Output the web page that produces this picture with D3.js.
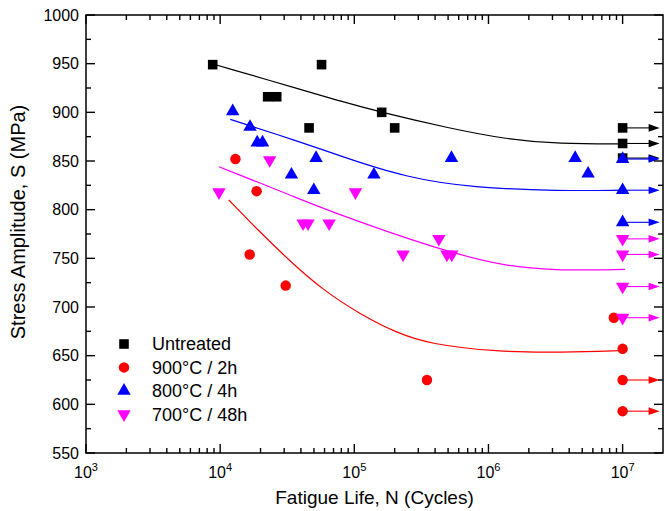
<!DOCTYPE html>
<html>
<head>
<meta charset="utf-8">
<script src="https://cdn.jsdelivr.net/npm/d3@7"></script>
<style>
  body { margin: 0; background: #fff; }
  text { font-family: "Liberation Sans", Arial, sans-serif; fill: #000; }
</style>
</head>
<body>
<svg id="chart" width="664" height="511"></svg>
<script>
// ---- data ----
const seriesNames = ["Untreated", "900°C / 2h", "800°C / 4h", "700°C / 48h"];
const seriesColors = ["#000000", "#ff0000", "#0000ff", "#ff00ff"];

const untreatedN = [8.8e3, 2.26e4, 2.64e4, 4.6e4, 5.7e4, 1.6e5, 2.0e5, 1e7, 1e7, 1e7];
const untreatedS = [949, 916, 916, 884, 949, 900, 884, 884, 868, 853];
const untreatedRunout = [0, 0, 0, 0, 0, 0, 0, 1, 1, 1];

const t900N = [1.30e4, 1.66e4, 1.87e4, 3.08e4, 3.48e5, 8.6e6, 1e7, 1e7, 1e7];
const t900S = [852, 754, 819, 722, 625, 689, 657, 625, 593];
const t900Runout = [0, 0, 0, 0, 0, 0, 0, 1, 1];

const t800N = [1.24e4, 1.67e4, 1.89e4, 2.07e4, 3.4e4, 4.99e4, 5.19e4, 1.40e5, 5.3e5, 4.43e6, 5.53e6, 1e7, 1e7, 1e7];
const t800S = [901, 885, 869, 869, 836, 820, 853, 836, 853, 853, 837, 852, 820, 787];
const t800Runout = [0, 0, 0, 0, 0, 0, 0, 0, 0, 0, 0, 1, 1, 1];

const t700N = [9.8e3, 2.34e4, 4.15e4, 4.52e4, 6.49e4, 1.02e5, 2.31e5, 4.27e5, 4.9e5, 5.33e5, 1e7, 1e7, 1e7, 1e7];
const t700S = [818, 851, 786, 786, 786, 818, 754, 770, 754, 754, 770, 754, 721, 689];
const t700Runout = [0, 0, 0, 0, 0, 0, 0, 0, 0, 0, 1, 1, 1, 1];

// fitted S-N curves
const untreatedFitN = [9.4e3, 3.92e4, 7.78e4, 1.59e5, 5.13e5, 1.36e6, 3.38e6, 1e7];
const untreatedFitS = [948.6, 923.8, 911.6, 900, 883.6, 872.3, 867.5, 867.5];
const t900FitN = [1.16e4, 1.98e4, 3.30e4, 5.82e4, 1.10e5, 2.07e5, 3.64e5, 1.15e6, 3.56e6, 1e7];
const t900FitS = [809.9, 777.0, 747.3, 717.5, 692.8, 673.3, 662.0, 653.8, 653.3, 655.3];
const t800FitN = [1.19e4, 3.92e4, 7.78e4, 2.44e5, 7.66e5, 3.38e6, 1e7];
const t800FitS = [892.8, 869.8, 855.4, 832.8, 822.6, 819.2, 820];
const t700FitN = [9.8e3, 3.92e4, 7.78e4, 4.33e5, 1.36e6, 3.38e6, 1.04e7];
const t700FitS = [844.1, 811, 794.5, 758.6, 741.4, 737.3, 738.7];

const xTickExps = [3, 4, 5, 6, 7];
const yTicks = [550, 600, 650, 700, 750, 800, 850, 900, 950, 1000];

// ---- layout ----
const svg = d3.select("#chart");
const mLeft = 86, mRight = 663, mTop = 15, mBottom = 453;

const x = d3.scaleLog().domain([1e3, 2e7]).range([mLeft, mRight]);
const y = d3.scaleLinear().domain([550, 1000]).range([mBottom, mTop]);

const series = [
  {N: untreatedN, S: untreatedS, run: untreatedRunout, fN: untreatedFitN, fS: untreatedFitS, shape: "square"},
  {N: t900N, S: t900S, run: t900Runout, fN: t900FitN, fS: t900FitS, shape: "circle"},
  {N: t800N, S: t800S, run: t800Runout, fN: t800FitN, fS: t800FitS, shape: "up"},
  {N: t700N, S: t700S, run: t700Runout, fN: t700FitN, fS: t700FitS, shape: "down"}
];
series.forEach((s, i) => { s.name = seriesNames[i]; s.color = seriesColors[i]; });

function symbolPath(shape){
  if(shape === "square") return d3.symbol(d3.symbolSquare, 92)();
  if(shape === "circle") return d3.symbol(d3.symbolCircle, 86)();
  return d3.symbol(d3.symbolTriangle, 78)();
}
function symbolTransform(shape, px, py){
  return shape === "down" ? `translate(${px},${py}) rotate(180)` : `translate(${px},${py})`;
}

// minor tick values
const xMinor = [];
for(let e = 3; e <= 7; e++){
  for(let k = 2; k <= 9; k++){
    const v = k * Math.pow(10, e);
    if(v < 2e7) xMinor.push(v);
  }
}
const yMinor = d3.range(575, 1000, 50);

// ---- fit curves ----
const line = d3.line().x(d => x(d[0])).y(d => y(d[1])).curve(d3.curveBasis);
series.forEach(s => {
  svg.append("path")
    .datum(s.fN.map((n, i) => [n, s.fS[i]]))
    .attr("d", line)
    .attr("fill", "none")
    .attr("stroke", s.color)
    .attr("stroke-width", 1.2);
});

// ---- run-out arrows + markers ----
const arrowLen = 37;
series.forEach(s => {
  const g = svg.append("g");
  s.N.forEach((n, i) => {
    if(!s.run[i]) return;
    const x0 = x(n), y0 = y(s.S[i]), x1 = x0 + arrowLen;
    g.append("line")
      .attr("x1", x0).attr("x2", x1 - 8)
      .attr("y1", y0).attr("y2", y0)
      .attr("stroke", s.color).attr("stroke-width", 1.1);
    g.append("path")
      .attr("d", `M${x1},${y0} L${x1 - 11},${y0 - 3.8} L${x1 - 11},${y0 + 3.8} Z`)
      .attr("fill", s.color);
  });
  g.selectAll("path.pt")
    .data(s.N.map((n, i) => [n, s.S[i]]))
    .join("path")
    .attr("class", "pt")
    .attr("d", symbolPath(s.shape))
    .attr("transform", d => symbolTransform(s.shape, x(d[0]), y(d[1])))
    .attr("fill", s.color);
});

// ---- axes (ticks point inwards on all four sides) ----
const axisG = svg.append("g").attr("stroke", "#000").attr("stroke-width", 1.4);
function tick(x1, y1, x2, y2){
  axisG.append("line").attr("x1", x1).attr("y1", y1).attr("x2", x2).attr("y2", y2);
}
xTickExps.forEach(e => {
  const px = x(Math.pow(10, e));
  tick(px, mBottom, px, mBottom - 9);
  tick(px, mTop, px, mTop + 9);
});
xMinor.forEach(v => {
  const px = x(v);
  tick(px, mBottom, px, mBottom - 5);
  tick(px, mTop, px, mTop + 5);
});
yTicks.forEach(v => {
  tick(mLeft, y(v), mLeft + 9, y(v));
  tick(mRight, y(v), mRight - 9, y(v));
});
yMinor.forEach(v => {
  tick(mLeft, y(v), mLeft + 5, y(v));
  tick(mRight, y(v), mRight - 5, y(v));
});
svg.append("rect")
  .attr("x", mLeft).attr("y", mTop)
  .attr("width", mRight - mLeft).attr("height", mBottom - mTop)
  .attr("fill", "none").attr("stroke", "#000").attr("stroke-width", 1.5);

// tick labels
svg.append("g").selectAll("text")
  .data(yTicks)
  .join("text")
  .attr("x", mLeft - 7)
  .attr("y", d => y(d))
  .attr("dy", "0.35em")
  .attr("text-anchor", "end")
  .style("font-size", "16px")
  .text(d => d);

const xl = svg.append("g").selectAll("text")
  .data(xTickExps)
  .join("text")
  .attr("x", d => x(Math.pow(10, d)))
  .attr("y", 478)
  .attr("text-anchor", "middle")
  .style("font-size", "16px");
xl.append("tspan").text("10");
xl.append("tspan").attr("dy", -7).style("font-size", "11px").text(d => d);

// axis titles
svg.append("text")
  .attr("x", (mLeft + mRight) / 2)
  .attr("y", 504)
  .attr("text-anchor", "middle")
  .style("font-size", "19px")
  .text("Fatigue Life, N (Cycles)");

svg.append("text")
  .attr("transform", "translate(25,222) rotate(-90)")
  .attr("text-anchor", "middle")
  .style("font-size", "20px")
  .text("Stress Amplitude, S (MPa)");

// ---- legend ----
const legend = svg.append("g").attr("transform", "translate(124,344)");
series.forEach((s, i) => {
  const row = legend.append("g").attr("transform", `translate(0,${i * 23.4})`);
  row.append("path")
    .attr("d", symbolPath(s.shape))
    .attr("transform", s.shape === "down" ? "rotate(180)" : null)
    .attr("fill", s.color);
  row.append("text")
    .attr("x", 28)
    .attr("dy", "0.35em")
    .style("font-size", "18px")
    .text(s.name);
});
</script>
</body>
</html>
